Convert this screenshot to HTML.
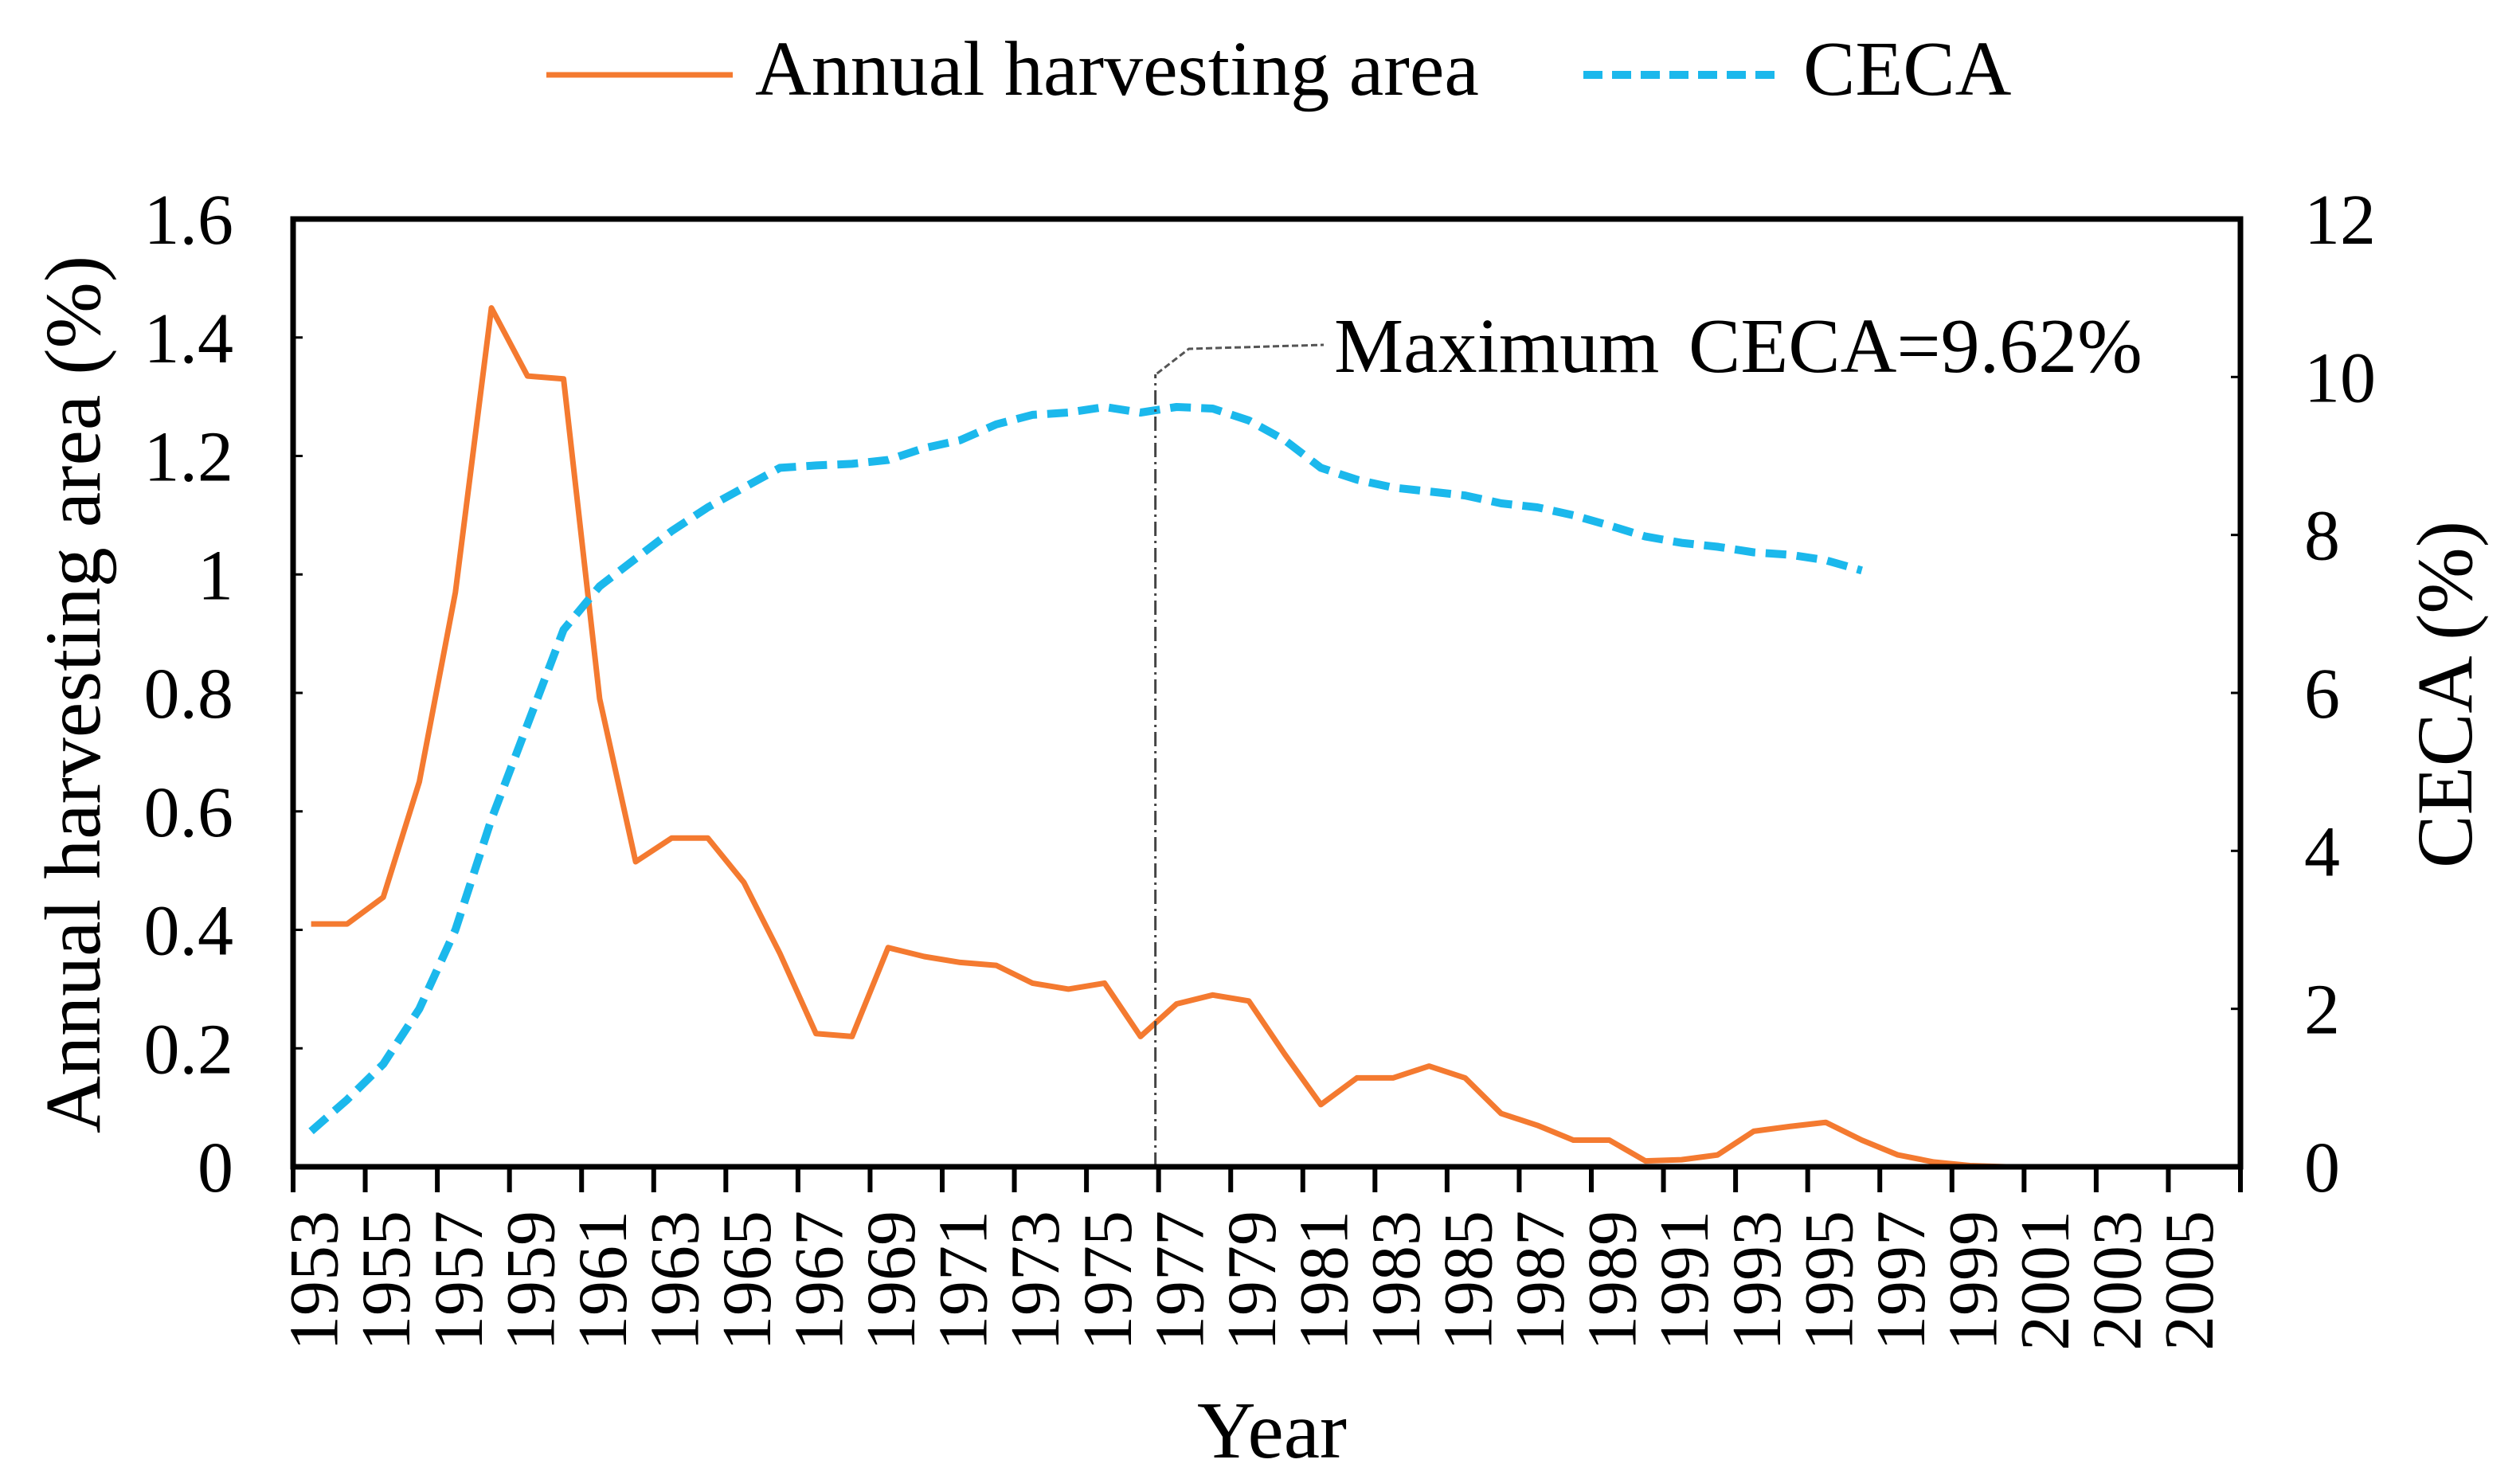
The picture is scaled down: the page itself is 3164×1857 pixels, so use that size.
<!DOCTYPE html>
<html><head><meta charset="utf-8"><style>
html,body{margin:0;padding:0;background:#fff;}
svg{display:block;font-family:"Liberation Serif",serif;}
</style></head><body>
<svg id="chart" width="3164" height="1857" viewBox="0 0 3164 1857" xmlns="http://www.w3.org/2000/svg">
<rect width="3164" height="1857" fill="#fff"/>
<g id="legend">
  <line x1="686" y1="94" x2="920" y2="94" stroke="#F47A30" stroke-width="7"/>
  <text x="948" y="119" font-size="98">Annual harvesting area</text>
  <line x1="1988" y1="94" x2="2228" y2="94" stroke="#1BB8EC" stroke-width="10" stroke-dasharray="24,12"/>
  <text x="2264" y="119" font-size="98">CECA</text>
</g>
<g id="plot"></g>
</svg>
<script>
const years = [];
for (let y = 1953; y <= 2006; y++) years.push(y);
const harvest = [0.41,0.41,0.455,0.65,0.97,1.45,1.335,1.33,0.79,0.515,0.555,0.555,0.48,0.36,0.225,0.22,0.37,0.355,0.345,0.34,0.31,0.30,0.31,0.22,0.275,0.29,0.28,0.19,0.105,0.15,0.15,0.17,0.15,0.09,0.07,0.045,0.045,0.01,0.012,0.02,0.06,0.068,0.075,0.045,0.02,0.008,0.002,0,0,0,0,0,0,0];
const ceca = [0.45,0.85,1.3,2.0,3.0,4.4,5.6,6.8,7.35,7.7,8.05,8.35,8.6,8.85,8.88,8.9,8.95,9.1,9.2,9.4,9.52,9.55,9.62,9.55,9.62,9.6,9.45,9.2,8.85,8.7,8.6,8.55,8.5,8.4,8.35,8.25,8.12,7.98,7.9,7.85,7.78,7.75,7.68,7.55];
const leftTicks = ["0","0.2","0.4","0.6","0.8","1","1.2","1.4","1.6"];
const rightTicks = ["0","2","4","6","8","10","12"];
const maxLabelA = "Maximum";
const maxLabelB = "CECA=9.62%";
const maxIndex = 24; // boundary between 1976 and 1977

const NS = "http://www.w3.org/2000/svg";
const X0 = 368, X1 = 2813, Y0 = 1465, Y1 = 275;
const n = years.length, cw = (X1 - X0) / n;
const xCat = i => X0 + (i + 0.5) * cw;
const xEdge = i => X0 + i * cw;
const yL = v => Y0 - v / 1.6 * (Y0 - Y1);
const yR = v => Y0 - v / 12 * (Y0 - Y1);
const plot = document.getElementById('plot');
function mk(tag, attrs, parent) {
  const e = document.createElementNS(NS, tag);
  for (const k in attrs) e.setAttribute(k, attrs[k]);
  (parent || plot).appendChild(e);
  return e;
}

// series
const hp = harvest.map((v, i) => xCat(i).toFixed(1) + ',' + yL(v).toFixed(1)).join(' ');
const hl = mk('polyline', {points: hp, fill: 'none', stroke: '#F47A30', 'stroke-width': 7, 'stroke-linejoin': 'round'});


const cp = ceca.map((v, i) => xCat(i).toFixed(1) + ',' + yR(v).toFixed(1)).join(' ');
const cl = mk('polyline', {points: cp, fill: 'none', stroke: '#1BB8EC', 'stroke-width': 10, 'stroke-dasharray': '26,13', 'stroke-linejoin': 'round'});



// max marker
const mx = xEdge(maxIndex) - 4;
const vl = mk('line', {x1: mx, y1: Y0, x2: mx, y2: 470, stroke: '#444', 'stroke-width': 3, 'stroke-dasharray': '18,6,3,6'});


const ld = mk('polyline', {points: `${mx+2},469 ${mx+42},438 1662,433`, fill: 'none', stroke: '#555', 'stroke-width': 3, 'stroke-dasharray': '8,4'});


const mt = mk('text', {x: 1675, y: 467, 'font-size': 98});
mt.textContent = maxLabelA;


const mt2 = mk('text', {x: 2120, y: 467, 'font-size': 98});
mt2.textContent = maxLabelB;



// axes frame
const fr = mk('path', {d: `M${X0},${Y0} L${X0},${Y1} L${X1},${Y1} L${X1},${Y0} Z`, fill: 'none', stroke: '#000', 'stroke-width': 7});



// left ticks
leftTicks.forEach((t, i) => {
  const y = Y0 - i * (Y0 - Y1) / 8;
  const tk = mk('line', {x1: X0, y1: y, x2: X0 + 12, y2: y, stroke: '#000', 'stroke-width': 3});
  
  
  const tx = mk('text', {x: 293, y: y + 31, 'font-size': 90, 'text-anchor': 'end'});
  tx.textContent = t;
  
  
});
// right ticks
rightTicks.forEach((t, i) => {
  const y = Y0 - i * (Y0 - Y1) / 6;
  const tk = mk('line', {x1: X1 - 12, y1: y, x2: X1, y2: y, stroke: '#000', 'stroke-width': 3});
  
  
  const tx = mk('text', {x: 2893, y: y + 31, 'font-size': 90});
  tx.textContent = t;
  
  
});
// x ticks & labels
for (let i = 0; i <= n; i += 2) {
  const x = xEdge(i);
  const tk = mk('line', {x1: x, y1: Y0, x2: x, y2: Y0 + 32, stroke: '#000', 'stroke-width': 6});
  
  
  if (i < n) {
    const bx = xCat(i) + 33;
    const tx = mk('text', {x: 0, y: 0, 'font-size': 88, 'text-anchor': 'end', transform: `translate(${bx.toFixed(1)},1520) rotate(-90)`});
    tx.textContent = years[i];
    
    
  }
}
// titles
const xt = mk('text', {x: 1597, y: 1830, 'font-size': 102, 'text-anchor': 'middle'});
xt.textContent = 'Year';


const yt = mk('text', {x: 0, y: 0, 'font-size': 100, 'text-anchor': 'middle', transform: 'translate(125,872) rotate(-90)'});
yt.textContent = 'Annual harvesting area (%)';


const rt = mk('text', {x: 0, y: 0, 'font-size': 100, 'text-anchor': 'middle', transform: 'translate(3103,872) rotate(-90)'});
rt.textContent = 'CECA (%)';


</script>
</body></html>
